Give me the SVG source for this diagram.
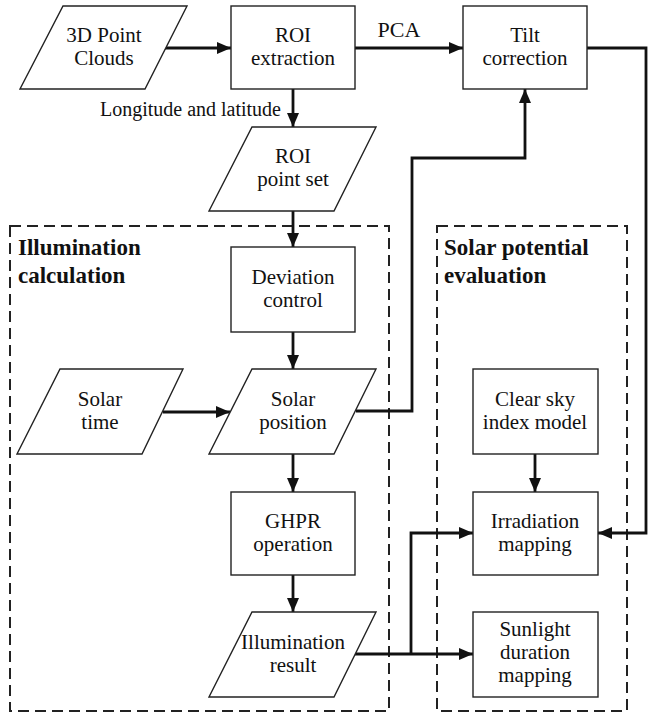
<svg xmlns="http://www.w3.org/2000/svg" width="648" height="717" viewBox="0 0 648 717">
<style>
.bx{fill:#fff;stroke:#222;stroke-width:1.4}
.t{font-family:"Liberation Serif","DejaVu Serif","Times New Roman",serif;font-size:21px;fill:#111;text-anchor:middle}
.h{font-family:"Liberation Serif","DejaVu Serif","Times New Roman",serif;font-size:23px;font-weight:bold;fill:#111}
.l{font-family:"Liberation Serif","DejaVu Serif","Times New Roman",serif;fill:#111}
.c{fill:none;stroke:#111;stroke-width:2.8}
.d{fill:none;stroke:#222;stroke-width:2;stroke-dasharray:11 6}
</style>
<defs>
<marker id="a" viewBox="0 0 14 12" refX="14" refY="6" markerWidth="14" markerHeight="12" markerUnits="userSpaceOnUse" orient="auto">
<path d="M0,0 L14,6 L0,12 z" fill="#111"/>
</marker>
</defs>
<rect width="648" height="717" fill="#fff"/>
<g id="groups">
<rect class="d" x="10" y="226" width="379" height="485"/>
<text class="h" x="18" y="255">Illumination</text>
<text class="h" x="18" y="283">calculation</text>
<rect class="d" x="437" y="226" width="190" height="485"/>
<text class="h" x="444" y="255">Solar potential</text>
<text class="h" x="444" y="283">evaluation</text>
</g>
<g id="connectors">
<path class="c" d="M165,48 H231" marker-end="url(#a)"/>
<path class="c" d="M355,48 H463" marker-end="url(#a)"/>
<text class="l" x="399" y="37" font-size="22" text-anchor="middle">PCA</text>
<path class="c" d="M293,89 V127" marker-end="url(#a)"/>
<text class="l" x="281" y="116" font-size="20" text-anchor="end">Longitude and latitude</text>
<path class="c" d="M293,211 V247" marker-end="url(#a)"/>
<path class="c" d="M293,332 V369" marker-end="url(#a)"/>
<path class="c" d="M163,412 H230" marker-end="url(#a)"/>
<path class="c" d="M356,411 H412 V158 H525 V89" marker-end="url(#a)"/>
<path class="c" d="M293,454 V492" marker-end="url(#a)"/>
<path class="c" d="M293,575 V612" marker-end="url(#a)"/>
<path class="c" d="M535,454 V492" marker-end="url(#a)"/>
<path class="c" d="M587,48 H646 V533 H598" marker-end="url(#a)"/>
<path class="c" d="M355,654 H473" marker-end="url(#a)"/>
<path class="c" d="M411,654 V533 H473" marker-end="url(#a)"/>
</g>
<g id="n-3d">
<polygon class="bx" points="63,6 187,6 145,89 20,89"/>
<text class="t" x="104" y="42">3D Point</text>
<text class="t" x="104" y="65">Clouds</text>
</g>
<g id="n-roi">
<rect class="bx" x="231" y="6" width="124" height="83"/>
<text class="t" x="293" y="42">ROI</text>
<text class="t" x="293" y="65">extraction</text>
</g>
<g id="n-tilt">
<rect class="bx" x="463" y="6" width="124" height="83"/>
<text class="t" x="525" y="42">Tilt</text>
<text class="t" x="525" y="65">correction</text>
</g>
<g id="n-roiset">
<polygon class="bx" points="252,127 376,127 334,211 209,211"/>
<text class="t" x="293" y="163">ROI</text>
<text class="t" x="293" y="186">point set</text>
</g>
<g id="n-dev">
<rect class="bx" x="231" y="247" width="124" height="85"/>
<text class="t" x="293" y="284">Deviation</text>
<text class="t" x="293" y="307">control</text>
</g>
<g id="n-soltime">
<polygon class="bx" points="60,369 183,369 142,454 17,454"/>
<text class="t" x="100" y="406">Solar</text>
<text class="t" x="100" y="429">time</text>
</g>
<g id="n-solpos">
<polygon class="bx" points="252,369 376,369 334,454 209,454"/>
<text class="t" x="293" y="406">Solar</text>
<text class="t" x="293" y="429">position</text>
</g>
<g id="n-clear">
<rect class="bx" x="473" y="369" width="125" height="85"/>
<text class="t" x="535" y="406">Clear sky</text>
<text class="t" x="535" y="429">index model</text>
</g>
<g id="n-ghpr">
<rect class="bx" x="231" y="492" width="124" height="83"/>
<text class="t" x="293" y="528">GHPR</text>
<text class="t" x="293" y="551">operation</text>
</g>
<g id="n-irr">
<rect class="bx" x="473" y="492" width="125" height="83"/>
<text class="t" x="535" y="528">Irradiation</text>
<text class="t" x="535" y="551">mapping</text>
</g>
<g id="n-illres">
<polygon class="bx" points="252,612 376,612 334,697 209,697"/>
<text class="t" x="293" y="649">Illumination</text>
<text class="t" x="293" y="672">result</text>
</g>
<g id="n-sun">
<rect class="bx" x="473" y="612" width="125" height="85"/>
<text class="t" x="535" y="636">Sunlight</text>
<text class="t" x="535" y="659">duration</text>
<text class="t" x="535" y="682">mapping</text>
</g>
</svg>
